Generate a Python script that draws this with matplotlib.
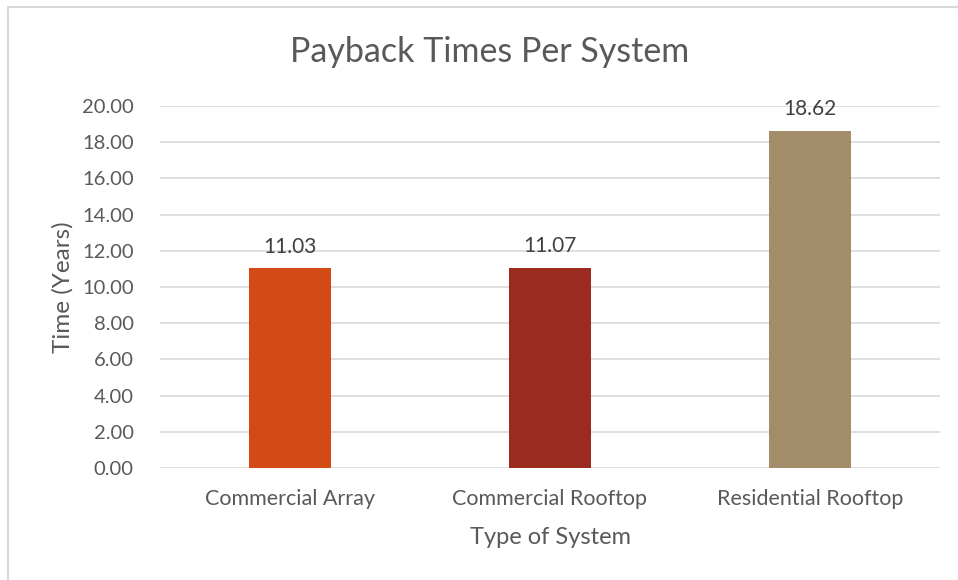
import matplotlib.pyplot as plt
from matplotlib.patches import Rectangle

categories = ["Commercial Array", "Commercial Rooftop", "Residential Rooftop"]
values = [11.03, 11.07, 18.62]
colors = ["#D34A16", "#9B2B1F", "#A38C6A"]
yticks = [0, 2, 4, 6, 8, 10, 12, 14, 16, 18, 20]

plt.rcParams['font.family'] = ['Lato', 'DejaVu Sans']
txt = "#595959"

fig = plt.figure(figsize=(9.58, 5.80), dpi=100)
ax = fig.add_axes([160/958, 1-468/580, 780/958, 362/580])

x = range(len(categories))
ax.bar(x, values, width=0.315, color=colors, zorder=3)
for xi, v in zip(x, values):
    ax.text(xi, v + 0.65, f"{v:.2f}", ha="center", va="bottom", fontsize=15, color="#404040")

ax.set_xlim(-0.5, 2.5)
ax.set_ylim(0, 20)
ax.set_yticks(yticks)
ax.set_yticklabels([f"{t:.2f}" for t in yticks])
ax.set_xticks(list(x))
ax.set_xticklabels(categories)
ax.tick_params(axis='both', length=0, colors=txt)
ax.tick_params(axis='y', pad=19, labelsize=14.5)
ax.tick_params(axis='x', pad=15, labelsize=15.5)
ax.grid(axis='y', color="#D9D9D9", linewidth=1.2, zorder=0)
for s in ax.spines.values():
    s.set_visible(False)

ax.set_ylabel("Time (Years)", fontsize=17.5, color=txt, labelpad=6)
ax.set_xlabel("Type of System", fontsize=17, color=txt, labelpad=13)
fig.text(490/958, 1-52/580, "Payback Times Per System", ha="center", va="center",
         fontsize=24.5, color=txt)

fig.patches.append(Rectangle((8/958, -0.1), 1.2, (1-7/580)+0.1, transform=fig.transFigure,
                             fill=False, edgecolor="#D9D9D9", linewidth=1.5))

fig.savefig("out.png", dpi=100)
